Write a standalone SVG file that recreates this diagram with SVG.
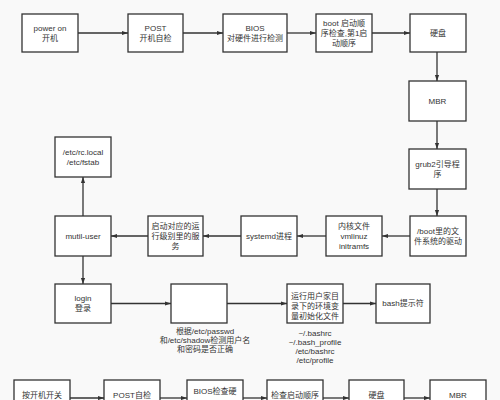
<svg xmlns="http://www.w3.org/2000/svg" width="500" height="400" viewBox="0 0 500 400">
<style>
.b{fill:#fff;stroke:#333;stroke-width:1.3}
.c{stroke:#333;stroke-width:1.3;fill:none}
text{font-family:"Liberation Sans","Noto Sans CJK SC",sans-serif;font-size:8px;fill:#333;text-anchor:middle}
</style>
<defs>
<marker id="a" viewBox="0 0 10 10" refX="10" refY="5" markerWidth="6" markerHeight="6" orient="auto" markerUnits="userSpaceOnUse">
<path d="M0,1.5L10,5L0,8.5z" fill="#333"/>
</marker>
</defs>
<rect width="500" height="400" fill="#f9f9f9"/>
<g id="connectors">
<line class="c" x1="78" y1="33" x2="128" y2="33" marker-end="url(#a)"/>
<line class="c" x1="183" y1="33" x2="223" y2="33" marker-end="url(#a)"/>
<line class="c" x1="287" y1="33" x2="316" y2="33" marker-end="url(#a)"/>
<line class="c" x1="372" y1="33" x2="410" y2="33" marker-end="url(#a)"/>
<line class="c" x1="437" y1="52" x2="437" y2="81" marker-end="url(#a)"/>
<line class="c" x1="437" y1="121" x2="437" y2="149" marker-end="url(#a)"/>
<line class="c" x1="437" y1="189" x2="437" y2="216" marker-end="url(#a)"/>
<line class="c" x1="410" y1="236" x2="382" y2="236" marker-end="url(#a)"/>
<line class="c" x1="326" y1="236" x2="297" y2="236" marker-end="url(#a)"/>
<line class="c" x1="241" y1="236" x2="203" y2="236" marker-end="url(#a)"/>
<line class="c" x1="148" y1="236" x2="111" y2="236" marker-end="url(#a)"/>
<line class="c" x1="83" y1="216" x2="83" y2="177" marker-end="url(#a)"/>
<line class="c" x1="83" y1="256" x2="83" y2="284" marker-end="url(#a)"/>
<line class="c" x1="111" y1="303.5" x2="171" y2="303.5" marker-end="url(#a)"/>
<line class="c" x1="227" y1="303.5" x2="287" y2="303.5" marker-end="url(#a)"/>
<line class="c" x1="343" y1="303.5" x2="376" y2="303.5" marker-end="url(#a)"/>
<line class="c" x1="70" y1="398" x2="104" y2="398" marker-end="url(#a)"/>
<line class="c" x1="160" y1="398" x2="187" y2="398" marker-end="url(#a)"/>
<line class="c" x1="243" y1="398" x2="267" y2="398" marker-end="url(#a)"/>
<line class="c" x1="323" y1="398" x2="349" y2="398" marker-end="url(#a)"/>
<line class="c" x1="404" y1="398" x2="430" y2="398" marker-end="url(#a)"/>
</g>
<g id="n1"><rect class="b" x="22" y="14" width="56" height="38"/><text x="50" y="31">power on</text><text x="50" y="41">开机</text></g>
<g id="n2"><rect class="b" x="128" y="14" width="55" height="38"/><text x="155.5" y="31">POST</text><text x="155.5" y="41">开机自检</text></g>
<g id="n3"><rect class="b" x="223" y="14" width="64" height="38"/><text x="255" y="31">BIOS</text><text x="255" y="41">对硬件进行检测</text></g>
<g id="n4"><rect class="b" x="316" y="14" width="56" height="38"/><text x="344" y="26">boot 启动顺</text><text x="344" y="36">序检查,第1启</text><text x="344" y="46">动顺序</text></g>
<g id="n5"><rect class="b" x="410" y="14" width="56" height="38"/><text x="438" y="36">硬盘</text></g>
<g id="n6"><rect class="b" x="409" y="81" width="57" height="40"/><text x="437.5" y="104">MBR</text></g>
<g id="n7"><rect class="b" x="409" y="149" width="57" height="40"/><text x="437.5" y="167">grub2引导程</text><text x="437.5" y="177">序</text></g>
<g id="n8"><rect class="b" x="410" y="216" width="56" height="40"/><text x="438" y="234">/boot里的文</text><text x="438" y="244">件系统的驱动</text></g>
<g id="n9"><rect class="b" x="326" y="216" width="56" height="40"/><text x="354" y="229">内核文件</text><text x="354" y="239">vmlinuz</text><text x="354" y="249">initramfs</text></g>
<g id="n10"><rect class="b" x="241" y="216" width="56" height="40"/><text x="269" y="239">systemd进程</text></g>
<g id="n11"><rect class="b" x="148" y="216" width="55" height="40"/><text x="175.5" y="229">启动对应的运</text><text x="175.5" y="239">行级别里的服</text><text x="175.5" y="249">务</text></g>
<g id="n12"><rect class="b" x="55" y="216" width="56" height="40"/><text x="83" y="239">mutil-user</text></g>
<g id="n13"><rect class="b" x="55" y="137" width="56" height="40"/><text x="83" y="155">/etc/rc.local</text><text x="83" y="165">/etc/fstab</text></g>
<g id="n14"><rect class="b" x="55" y="284" width="56" height="39"/><text x="83" y="301">login</text><text x="83" y="311">登录</text></g>
<g id="n15"><rect class="b" x="171" y="284" width="56" height="39"/><text x="205" y="334">根据/etc/passwd</text><text x="205" y="343">和/etc/shadow检测用户名</text><text x="205" y="352">和密码是否正确</text></g>
<g id="n16"><rect class="b" x="287" y="284" width="56" height="39"/><text x="315" y="299">运行用户家目</text><text x="315" y="309">录下的环境变</text><text x="315" y="319">量初始化文件</text><text x="315" y="336">~/.bashrc</text><text x="315" y="345">~/.bash_profile</text><text x="315" y="354">/etc/bashrc</text><text x="315" y="363">/etc/profile</text></g>
<g id="n17"><rect class="b" x="376" y="284" width="54" height="39"/><text x="403" y="306">bash提示符</text></g>
<g id="n18"><rect class="b" x="14" y="380" width="56" height="40"/><text x="42" y="398">按开机开关</text></g>
<g id="n19"><rect class="b" x="104" y="380" width="56" height="40"/><text x="132" y="398">POST自检</text></g>
<g id="n20"><rect class="b" x="187" y="380" width="56" height="40"/><text x="215" y="394">BIOS检查硬</text></g>
<g id="n21"><rect class="b" x="267" y="380" width="56" height="40"/><text x="295" y="398">检查启动顺序</text></g>
<g id="n22"><rect class="b" x="349" y="380" width="55" height="40"/><text x="376.5" y="398">硬盘</text></g>
<g id="n23"><rect class="b" x="430" y="380" width="56" height="40"/><text x="458" y="398">MBR</text></g>
</svg>
